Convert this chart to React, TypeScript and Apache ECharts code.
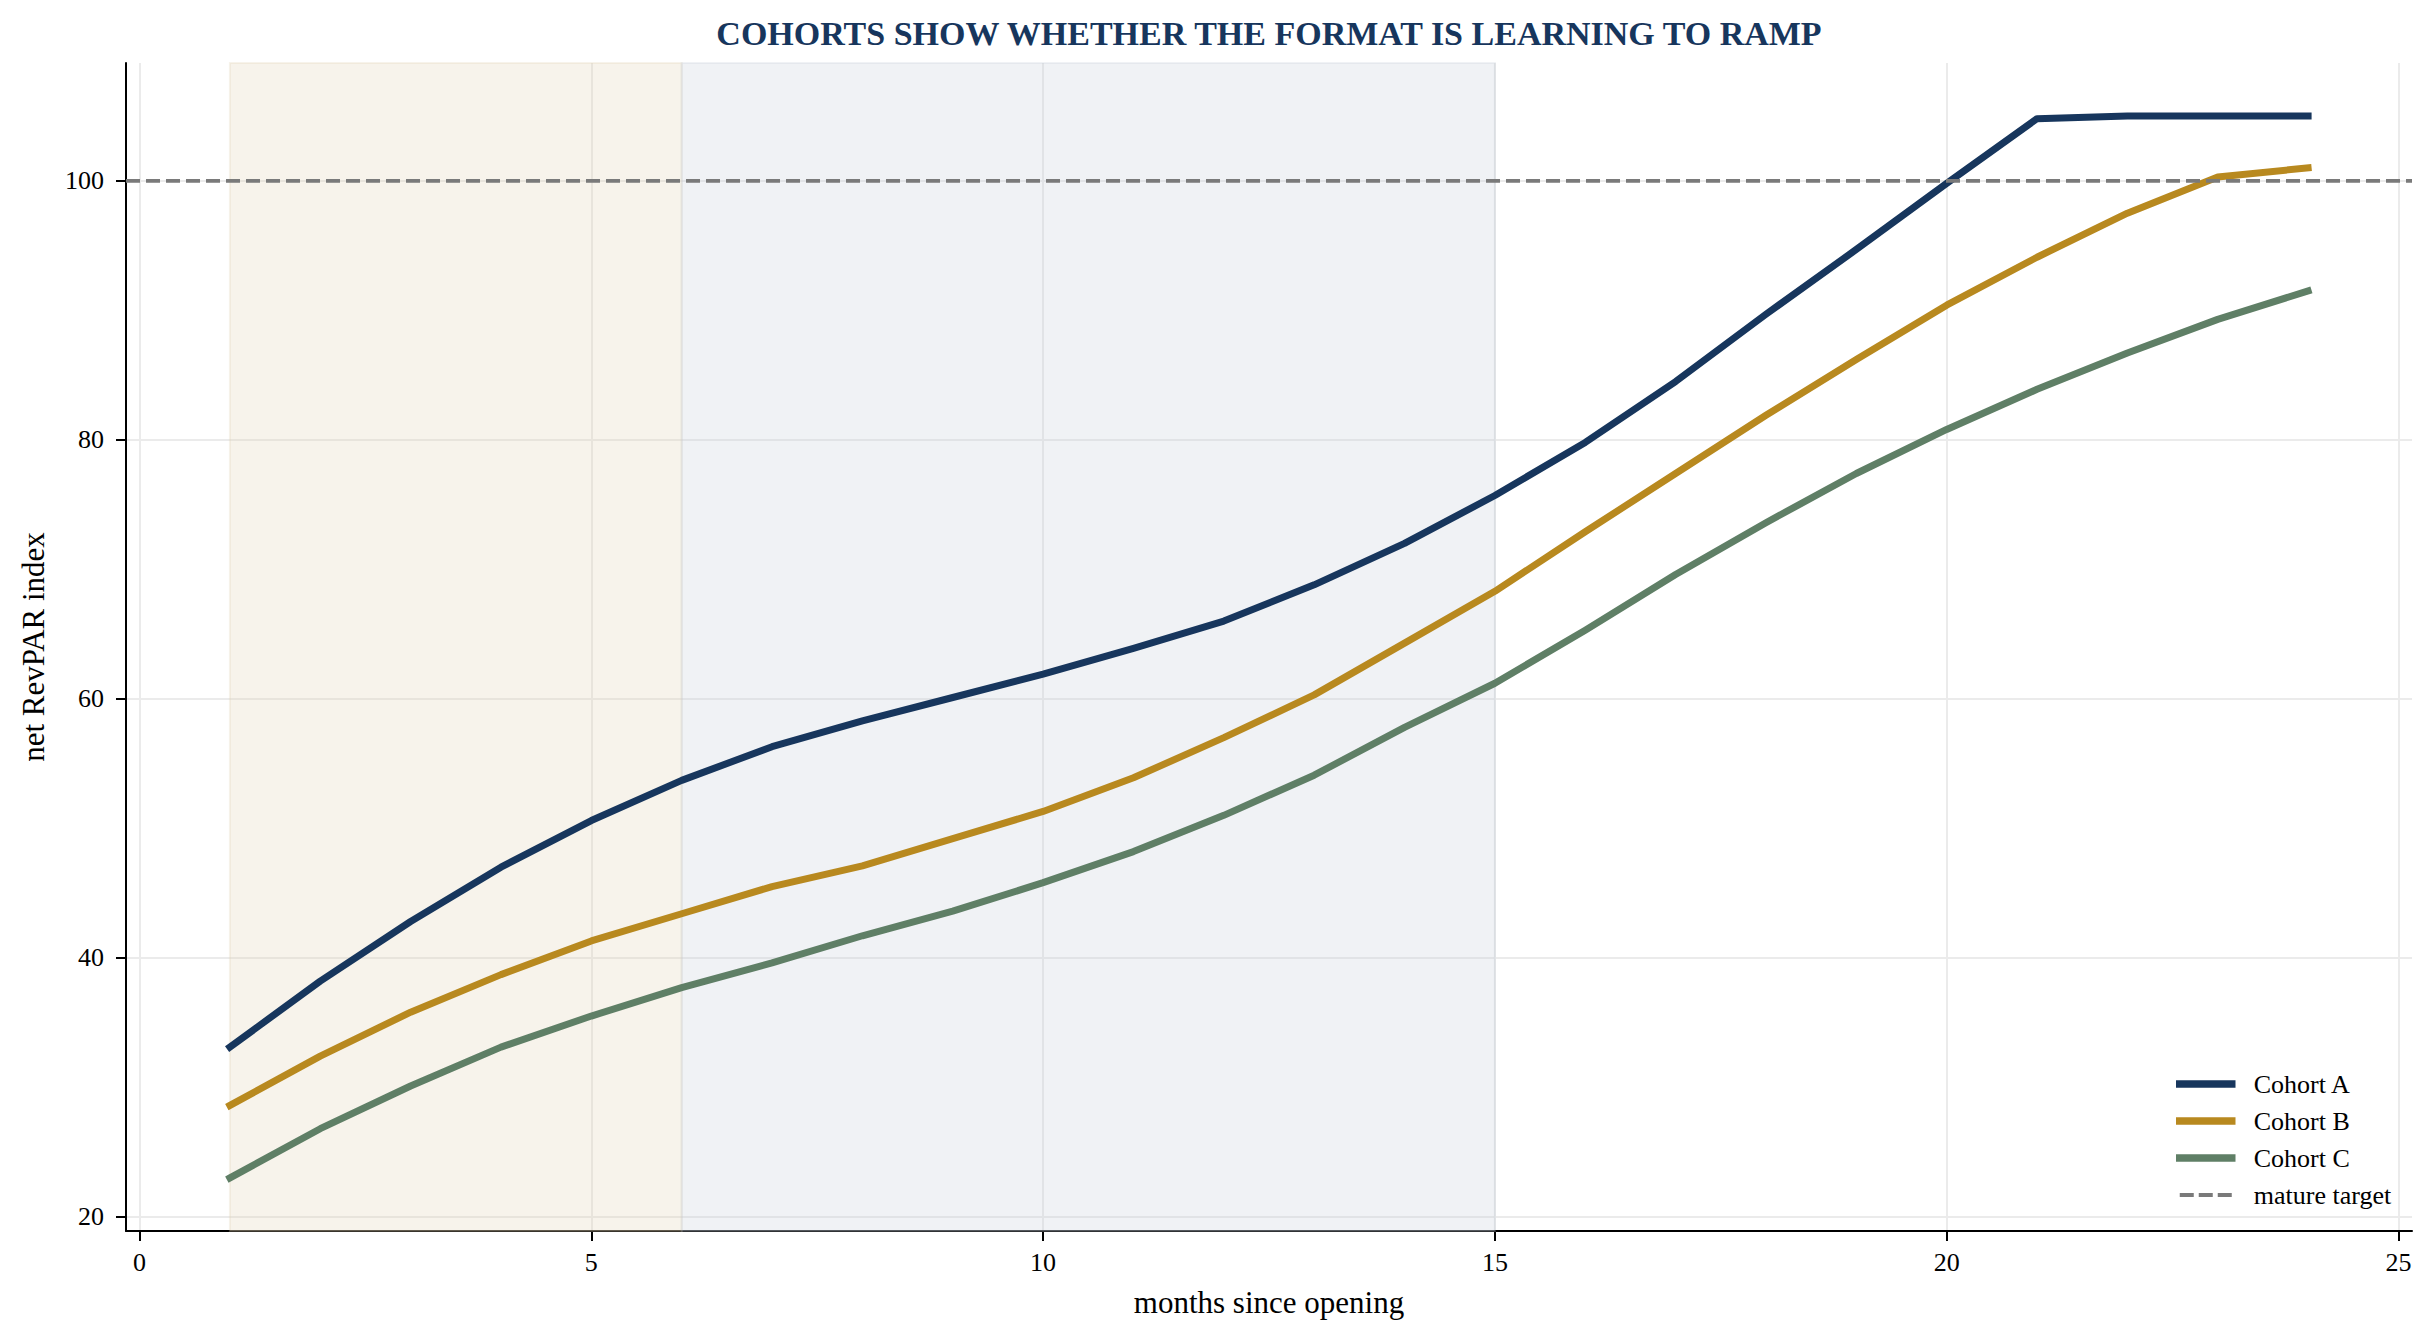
import React, { useEffect, useRef } from "react";
import * as echarts from "echarts";

// ---- data ----
const months = [1, 2, 3, 4, 5, 6, 7, 8, 9, 10, 11, 12, 13, 14, 15, 16, 17, 18, 19, 20, 21, 22, 23, 24];
const cohortA = [33.1, 38.2, 42.8, 47.0, 50.6, 53.7, 56.3, 58.3, 60.1, 61.9, 63.9, 66.0, 68.8, 72.0, 75.7, 79.8, 84.5, 89.7, 94.7, 99.8, 104.8, 105.0, 105.0, 105.0];
const cohortB = [28.6, 32.4, 35.8, 38.7, 41.3, 43.4, 45.5, 47.1, 49.2, 51.3, 53.9, 57.0, 60.3, 64.3, 68.3, 72.9, 77.4, 81.9, 86.2, 90.4, 94.1, 97.5, 100.3, 101.0];
const cohortC = [23.0, 26.8, 30.1, 33.1, 35.5, 37.7, 39.6, 41.7, 43.6, 45.8, 48.2, 51.0, 54.1, 57.8, 61.2, 65.3, 69.6, 73.6, 77.4, 80.8, 83.9, 86.7, 89.3, 91.5];
const seriesNames = ["Cohort A", "Cohort B", "Cohort C"];
const targetName = "mature target";
const targetLevel = 100;
const phaseStarts = [1, 6];
const phaseEnds = [6, 15];
const xTicks = [0, 5, 10, 15, 20, 25];
const yTicks = [20, 40, 60, 80, 100];
const xRange = [-0.15, 25.15];
const yRange = [18.9, 109.1];

const titleText = "COHORTS SHOW WHETHER THE FORMAT IS LEARNING TO RAMP";
const xName = "months since opening";
const yName = "net RevPAR index";

// ---- styles ----
const FONT = "'Liberation Serif', 'Times New Roman', serif";
const colors = ["#17365d", "#b8891f", "#5f7f66"];
const phaseColors = ["rgba(223,207,175,0.25)", "rgba(195,203,215,0.25)"];

export default function App() {
  const ref = useRef<HTMLDivElement>(null);

  useEffect(() => {
    if (!ref.current) return;
    const chart = echarts.init(ref.current, undefined, { renderer: "svg" });
    const values = [cohortA, cohortB, cohortC];

    const cohortSeries = values.map((vals, i) => ({
      name: seriesNames[i],
      type: "line",
      data: months.map((m, k) => [m, vals[k]]),
      symbol: "none",
      showSymbol: false,
      lineStyle: { color: colors[i], width: 7, cap: "square", join: "round" },
      itemStyle: { color: colors[i] },
      z: 3,
      markArea:
        i === 0
          ? {
              silent: true,
              data: phaseStarts.map((s, p) => [
                {
                  xAxis: s,
                  itemStyle: { color: phaseColors[p], borderColor: phaseColors[p], borderWidth: 2 },
                },
                { xAxis: phaseEnds[p] },
              ]),
            }
          : undefined,
    }));

    const option: any = {
      animation: false,
      backgroundColor: "#ffffff",
      textStyle: { fontFamily: FONT },
      grid: { left: 126, right: 22, top: 63, bottom: 111, containLabel: false },
      graphic: [
        {
          type: "text",
          x: 1269,
          y: 33,
          style: {
            text: titleText,
            align: "center",
            verticalAlign: "middle",
            font: `bold 34px ${FONT}`,
            fill: "#17365d",
          },
        },
      ],
      legend: {
        orient: "vertical",
        left: 2176,
        top: 1071,
        padding: 0,
        itemWidth: 52,
        itemHeight: 26,
        itemGap: 11,
        textStyle: { fontFamily: FONT, fontSize: 26, color: "#000", padding: [0, 0, 0, 17] },
        data: [
          ...seriesNames.map((n, i) => ({
            name: n,
            itemStyle: { opacity: 0 },
            lineStyle: { width: 7.5, color: colors[i], cap: "square" },
          })),
          {
            name: targetName,
            itemStyle: { opacity: 0 },
            lineStyle: { width: 4, color: "#7a7a7a", type: [14, 5] },
          },
        ],
      },
      xAxis: {
        type: "value",
        min: xRange[0],
        max: xRange[1],
        name: xName,
        nameLocation: "middle",
        nameGap: 56,
        nameTextStyle: { fontFamily: FONT, fontSize: 31, color: "#000" },
        axisLine: { onZero: false, lineStyle: { color: "#000", width: 2 } },
        axisTick: { show: true, length: 10, lineStyle: { color: "#000", width: 2 }, customValues: xTicks },
        axisLabel: { customValues: xTicks, fontFamily: FONT, fontSize: 26, color: "#000", margin: 18 },
        splitLine: { show: true, lineStyle: { color: "#ebebeb", width: 2 } },
      },
      yAxis: {
        type: "value",
        min: yRange[0],
        max: yRange[1],
        name: yName,
        nameLocation: "middle",
        nameGap: 77,
        nameTextStyle: { fontFamily: FONT, fontSize: 31, color: "#000" },
        axisLine: { show: true, onZero: false, lineStyle: { color: "#000", width: 2 } },
        axisTick: { show: true, length: 10, lineStyle: { color: "#000", width: 2 }, customValues: yTicks },
        axisLabel: { customValues: yTicks, fontFamily: FONT, fontSize: 26, color: "#000", margin: 22 },
        splitLine: { show: true, lineStyle: { color: "#ebebeb", width: 2 } },
      },
      series: [
        ...cohortSeries,
        {
          name: targetName,
          type: "line",
          data: [
            [xRange[0], targetLevel],
            [xRange[1], targetLevel],
          ],
          symbol: "none",
          showSymbol: false,
          lineStyle: { color: "#7a7a7a", width: 3.8, type: [14, 6] },
          itemStyle: { color: "#7a7a7a" },
          z: 4,
        },
      ],
    };

    chart.setOption(option);
    return () => chart.dispose();
  }, []);

  return (
    <div
      ref={ref}
      style={{ position: "absolute", left: 0, top: 0, width: 2434, height: 1342 }}
    />
  );
}
